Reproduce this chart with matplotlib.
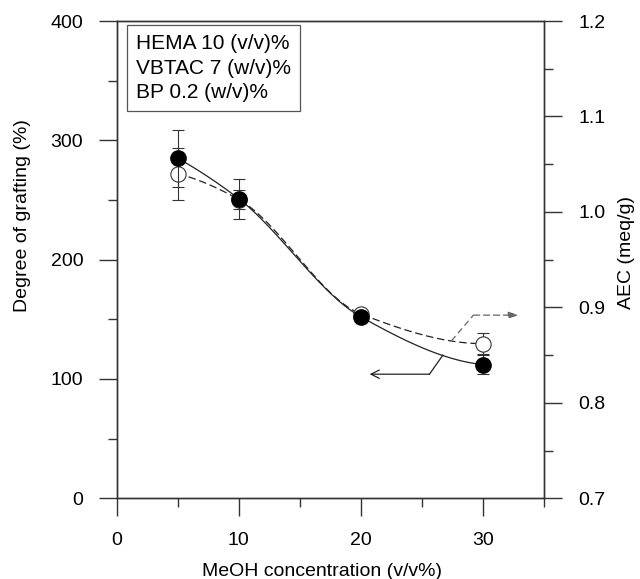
import matplotlib
matplotlib.use("Agg")
import matplotlib.pyplot as plt
from matplotlib.ticker import MultipleLocator
import numpy as np

plt.rcParams['font.family'] = ['Liberation Sans', 'DejaVu Sans']

# data
meoh = [5, 10, 20, 30]
dg = [285, 251, 152, 112]          # degree of grafting (%)
dg_err = [24, 17, 4, 8]
aec = [1.040, 1.013, 0.893, 0.862]  # meq/g
aec_err = [0.027, 0.010, 0.005, 0.011]

info_lines = ["HEMA 10 (v/v)%", "VBTAC 7 (w/v)%", "BP 0.2 (w/v)%"]


def pchip(x, y, xs):
    # monotone cubic through the points (smooth guide line)
    x = np.asarray(x, float)
    y = np.asarray(y, float)
    h = np.diff(x)
    d = np.diff(y) / h
    m = np.zeros_like(y)
    for k in range(1, len(x) - 1):
        if d[k - 1] * d[k] > 0:
            w1 = 2 * h[k] + h[k - 1]
            w2 = h[k] + 2 * h[k - 1]
            m[k] = (w1 + w2) / (w1 / d[k - 1] + w2 / d[k])
    m[0] = ((2 * h[0] + h[1]) * d[0] - h[0] * d[1]) / (h[0] + h[1])
    if m[0] * d[0] <= 0:
        m[0] = 0
    m[-1] = ((2 * h[-1] + h[-2]) * d[-1] - h[-1] * d[-2]) / (h[-1] + h[-2])
    if m[-1] * d[-1] <= 0:
        m[-1] = 0
    out = np.empty_like(xs)
    for i, xv in enumerate(xs):
        k = min(np.searchsorted(x, xv, side='right') - 1, len(x) - 2)
        t = (xv - x[k]) / h[k]
        h00 = 2 * t**3 - 3 * t**2 + 1
        h10 = t**3 - 2 * t**2 + t
        h01 = -2 * t**3 + 3 * t**2
        h11 = t**3 - t**2
        out[i] = h00 * y[k] + h10 * h[k] * m[k] + h01 * y[k + 1] + h11 * h[k] * m[k + 1]
    return out


fig = plt.figure(figsize=(6.4, 5.79), dpi=100)
ax = fig.add_axes([0.1823, 0.1394, 0.6682, 0.8243])
ax2 = ax.twinx()

xs = np.linspace(meoh[0], meoh[-1], 200)

# AEC (open circles, dashed) on right axis
ax2.plot(xs, pchip(meoh, aec, xs), color='#222222', lw=0.9, ls=(0, (6, 3)))
ax2.errorbar(meoh, aec, yerr=aec_err, fmt='o', ms=11, mfc='white', mec='#333333',
             mew=0.8, ecolor='#333333', elinewidth=0.8, capsize=4.5, capthick=0.8)

# degree of grafting (filled circles, solid) on left axis
ax.plot(xs, pchip(meoh, dg, xs), color='#222222', lw=0.9, zorder=3)
ax.errorbar(meoh, dg, yerr=dg_err, fmt='o', ms=11, mfc='black', mec='black',
            ecolor='#333333', elinewidth=0.8, capsize=4.5, capthick=0.8, zorder=4)
ax.set_zorder(ax2.get_zorder() + 1)
ax.patch.set_visible(False)

# pointer arrows
ax.plot([26.7, 25.6], [120, 104], color='#222222', lw=0.9)
ax.annotate('', xy=(20.7, 104), xytext=(25.6, 104),
            arrowprops=dict(arrowstyle='->,head_length=0.6,head_width=0.3',
                            color='#222222', lw=0.9, shrinkA=0, shrinkB=0))
ax.plot([27.4, 29.2], [132, 153.5], color='#666666', lw=0.9, ls=(0, (5, 3)))
ax.annotate('', xy=(32.9, 153.5), xytext=(29.2, 153.5),
            arrowprops=dict(arrowstyle='-|>,head_length=0.6,head_width=0.2',
                            color='#666666', lw=0.9, ls=(0, (5, 3)),
                            shrinkA=0, shrinkB=0))

ax.set_xlim(0, 35)
ax.set_ylim(0, 400)
ax2.set_ylim(0.7, 1.2)

ax.xaxis.set_major_locator(MultipleLocator(10))
ax.xaxis.set_minor_locator(MultipleLocator(5))
ax.yaxis.set_major_locator(MultipleLocator(100))
ax.yaxis.set_minor_locator(MultipleLocator(50))
ax2.yaxis.set_minor_locator(MultipleLocator(0.05))
ax2.set_yticks([0.7, 0.8, 0.9, 1.0, 1.1, 1.2])
ax2.set_yticklabels(['0.7', '0.8', '0.9', '1.0', '1.1', '1.2'])

for a in (ax, ax2):
    for s in a.spines.values():
        s.set_color('#333333')
        s.set_linewidth(1.0)
ax.tick_params(axis='x', which='major', direction='out', length=13, width=1.0,
               color='#333333', pad=11, labelsize=14)
ax.tick_params(axis='x', which='minor', direction='out', length=6.5, width=1.0, color='#333333')
ax.tick_params(axis='y', which='major', direction='out', length=13, width=1.0,
               color='#333333', pad=11, labelsize=14)
ax.tick_params(axis='y', which='minor', direction='out', length=6.5, width=1.0, color='#333333')
ax2.tick_params(axis='y', which='major', direction='out', length=13, width=1.0,
                color='#333333', pad=11.5, labelsize=14)
ax2.tick_params(axis='y', which='minor', direction='out', length=6.5, width=1.0, color='#333333')

ax.set_xlabel('MeOH concentration (v/v%)', fontsize=14)
ax.set_ylabel('Degree of grafting (%)', fontsize=14)
ax2.set_ylabel('AEC (meq/g)', fontsize=14, rotation=90, va='center')
ax.xaxis.set_label_coords(0.479, -0.153)
ax.yaxis.set_label_coords(-0.221, 0.593)
ax2.yaxis.set_label_coords(1.193, 0.516)
ax.xaxis.label.set_va('center')
ax.yaxis.label.set_va('center')

ax.text(0.045, 0.972, "\n".join(info_lines), transform=ax.transAxes, fontsize=15,
        va='top', ha='left', linespacing=1.35,
        bbox=dict(boxstyle='square,pad=0.45', fc='white', ec='#555555', lw=0.9))

fig.savefig('out.png', dpi=100)
